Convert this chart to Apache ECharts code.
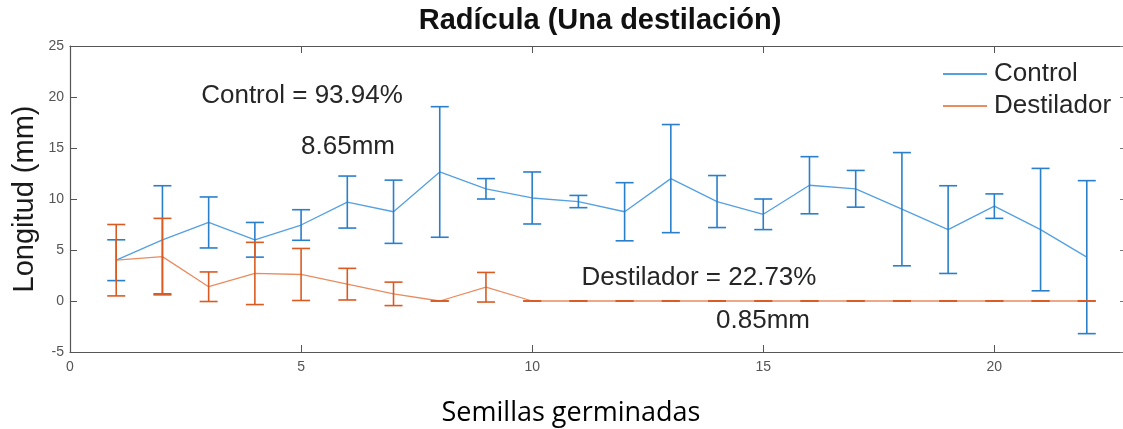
<!DOCTYPE html>
<html>
<head>
<meta charset="utf-8">
<script src="https://cdn.jsdelivr.net/npm/echarts@6/dist/echarts.min.js"></script>
<style>
html,body{margin:0;padding:0;background:#fff;}
#chart{width:1123px;height:429px;}
</style>
</head>
<body>
<div id="chart"></div>
<script>
// ---- data ----
const seeds = [1,2,3,4,5,6,7,8,9,10,11,12,13,14,15,16,17,18,19,20,21,22];
const controlMean = [4.0, 6.0, 7.7, 6.0, 7.45, 9.7, 8.75, 12.65, 11.0, 10.1, 9.75, 8.75, 12.0, 9.75, 8.5, 11.35, 11.0, 9.0, 7.0, 9.3, 7.0, 4.3];
const controlErr  = [2.0, 5.3, 2.5, 1.7, 1.5, 2.55, 3.1, 6.4, 1.0, 2.55, 0.6, 2.85, 5.3, 2.55, 1.5, 2.8, 1.8, 5.55, 4.3, 1.2, 6.0, 7.5];
const destMean = [4.0, 4.35, 1.4, 2.7, 2.6, 1.65, 0.7, 0, 1.35, 0, 0, 0, 0, 0, 0, 0, 0, 0, 0, 0, 0, 0];
const destErr  = [3.5, 3.75, 1.45, 3.05, 2.55, 1.55, 1.15, 0, 1.45, 0, 0, 0, 0, 0, 0, 0, 0, 0, 0, 0, 0, 0];
const xTicks = {min: 0, max: 23, interval: 5};
const yTicks = {min: -5, max: 25, interval: 5};
const titleText = 'Radícula (Una destilación)';
const yName = 'Longitud (mm)';
const xName = 'Semillas germinadas';
const notes = [
  {text: 'Control = 93.94%', x: 302, y: 96},
  {text: '8.65mm', x: 348, y: 147},
  {text: 'Destilador = 22.73%', x: 699, y: 278},
  {text: '0.85mm', x: 763, y: 321}
];

const C_LINE = '#55a0e0', C_BAR = '#2a7fcb';
const D_LINE = '#e98c60', D_BAR = '#db5a22';

function errSeries(name, mean, err, color) {
  return {
    type: 'custom', name: name, z: 3,
    data: seeds.map((s, i) => [s, mean[i], err[i]]),
    renderItem: function (params, api) {
      const x = api.value(0), y = api.value(1), e = api.value(2);
      const t = api.coord([x, y + e]), b = api.coord([x, y - e]);
      const hw = 9;
      const st = {stroke: color, lineWidth: 1.6};
      return {type: 'group', children: [
        {type: 'line', shape: {x1: t[0], y1: t[1], x2: b[0], y2: b[1]}, style: st},
        {type: 'line', shape: {x1: t[0] - hw, y1: t[1], x2: t[0] + hw, y2: t[1]}, style: st},
        {type: 'line', shape: {x1: b[0] - hw, y1: b[1], x2: b[0] + hw, y2: b[1]}, style: st}
      ]};
    }
  };
}

const chart = echarts.init(document.getElementById('chart'));
const axLine = {show: true, onZero: false, lineStyle: {color: '#555', width: 1.2}};
const axTick = {show: true, inside: true, length: 7, lineStyle: {color: '#555'}};
chart.setOption({
  animation: false,
  grid: {left: 70, width: 1063, top: 46, height: 306, outerBoundsMode: 'none', containLabel: false},
  legend: {
    data: ['Control', 'Destilador'], orient: 'vertical', left: 938, top: 56,
    icon: 'rect', itemWidth: 44, itemHeight: 2, itemGap: 6,
    textStyle: {fontFamily: 'Liberation Sans', fontSize: 26, color: '#262626', padding: [0, 0, 0, 2]}
  },
  xAxis: [
    {type: 'value', min: xTicks.min, max: xTicks.max, interval: xTicks.interval, position: 'bottom',
     axisLine: axLine, axisTick: axTick,
     axisLabel: {color: '#555', fontSize: 14, fontFamily: 'Liberation Sans', margin: 8,
                 formatter: v => v >= 23 ? '' : String(v)},
     splitLine: {show: false}},
    {type: 'value', min: xTicks.min, max: xTicks.max, interval: xTicks.interval, position: 'top',
     axisLine: axLine, axisTick: axTick,
     axisLabel: {show: false}, splitLine: {show: false}}
  ],
  yAxis: [
    {type: 'value', min: yTicks.min, max: yTicks.max, interval: yTicks.interval, position: 'left',
     axisLine: axLine, axisTick: axTick,
     axisLabel: {color: '#555', fontSize: 14, fontFamily: 'Liberation Sans', margin: 6},
     splitLine: {show: false}},
    {type: 'value', min: yTicks.min, max: yTicks.max, interval: yTicks.interval, position: 'right',
     axisLine: axLine, axisTick: {show: true, inside: true, length: 13, lineStyle: {color: '#777'}},
     axisLabel: {show: false}, splitLine: {show: false}}
  ],
  series: [
    {type: 'line', name: 'Control', data: seeds.map((s, i) => [s, controlMean[i]]),
     showSymbol: false, symbol: 'none', lineStyle: {color: C_LINE, width: 1.3}, itemStyle: {color: C_LINE}, z: 2},
    {type: 'line', name: 'Destilador', data: seeds.map((s, i) => [s, destMean[i]]),
     showSymbol: false, symbol: 'none', lineStyle: {color: D_LINE, width: 1.3}, itemStyle: {color: D_LINE}, z: 2},
    errSeries('ControlErr', controlMean, controlErr, C_BAR),
    errSeries('DestiladorErr', destMean, destErr, D_BAR)
  ],
  graphic: [
    {type: 'text', x: 600, y: 21, style: {text: titleText, align: 'center', verticalAlign: 'middle',
      font: 'bold 29px "Liberation Sans"', fill: '#111'}},
    {type: 'text', x: 25, y: 199, rotation: Math.PI / 2, style: {text: yName, align: 'center', verticalAlign: 'middle',
      font: '29px "Liberation Sans"', fill: '#1a1a1a'}},
    {type: 'text', x: 571, y: 413, style: {text: xName, align: 'center', verticalAlign: 'middle',
      font: '27px "Open Sans"', fill: '#000'}}
  ].concat(notes.map(n => ({type: 'text', x: n.x, y: n.y, style: {text: n.text, align: 'center', verticalAlign: 'middle',
      font: '26px "Liberation Sans"', fill: '#262626'}})))
});
</script>
</body>
</html>
